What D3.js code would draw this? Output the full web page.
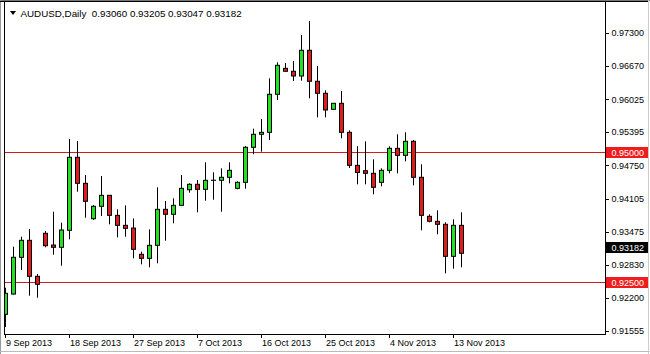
<!DOCTYPE html>
<html><head><meta charset="utf-8">
<script src="https://cdn.jsdelivr.net/npm/d3@7"></script>
<style>html,body{margin:0;padding:0;background:#fff;}svg{display:block;}</style>
</head><body>
<script>
const symbol = "AUDUSD,Daily";
const headerValues = ["0.93060", "0.93205", "0.93047", "0.93182"];
const dates = [
 "2013-09-09","2013-09-10","2013-09-11","2013-09-12","2013-09-13","2013-09-15","2013-09-16","2013-09-17","2013-09-18","2013-09-19","2013-09-20",
 "2013-09-22","2013-09-23","2013-09-24","2013-09-25","2013-09-26","2013-09-27","2013-09-29","2013-09-30",
 "2013-10-01","2013-10-02","2013-10-03","2013-10-04","2013-10-06","2013-10-07","2013-10-08","2013-10-09","2013-10-10","2013-10-11",
 "2013-10-13","2013-10-14","2013-10-15","2013-10-16","2013-10-17","2013-10-18","2013-10-20","2013-10-21","2013-10-22","2013-10-23","2013-10-24","2013-10-25",
 "2013-10-27","2013-10-28","2013-10-29","2013-10-30","2013-10-31","2013-11-01","2013-11-03","2013-11-04","2013-11-05","2013-11-06","2013-11-07","2013-11-08",
 "2013-11-10","2013-11-11","2013-11-12","2013-11-13","2013-11-14"];
const open  = [0.91877,0.92268,0.92977,0.93305,0.92610,0.93440,0.93214,0.93170,0.93498,0.94907,0.94405,0.93722,0.93961,0.94173,0.93787,0.93594,0.93542,0.93035,0.92957,0.93208,0.93903,0.93807,0.93980,0.94281,0.94386,0.94289,0.94463,0.94463,0.94521,0.94308,0.94424,0.95100,0.95351,0.95389,0.96123,0.96624,0.96567,0.96476,0.96972,0.96374,0.96142,0.95833,0.95949,0.95389,0.94752,0.94648,0.94598,0.94424,0.94656,0.95080,0.94945,0.95216,0.94521,0.93768,0.93672,0.93614,0.92996,0.93594];
const high  = [0.92390,0.93181,0.93374,0.93523,0.92654,0.93484,0.93857,0.93645,0.95260,0.95221,0.94565,0.93986,0.94546,0.94180,0.93903,0.93980,0.93729,0.93085,0.93517,0.94328,0.94063,0.94115,0.94565,0.94405,0.94469,0.94810,0.94617,0.94694,0.94810,0.94444,0.95125,0.95459,0.95646,0.96431,0.96740,0.96727,0.96765,0.97267,0.97537,0.96669,0.96200,0.95949,0.96186,0.95428,0.95121,0.95216,0.94868,0.94694,0.95119,0.95351,0.95389,0.95241,0.94772,0.93807,0.93884,0.93652,0.93710,0.93845];
const low   = [0.91632,0.92260,0.92732,0.92236,0.92197,0.93170,0.93027,0.92815,0.93324,0.94243,0.93741,0.93697,0.93774,0.93614,0.93363,0.93374,0.92957,0.92842,0.92784,0.92861,0.93297,0.93633,0.93970,0.94224,0.93845,0.94069,0.94088,0.93857,0.94405,0.94289,0.94301,0.94965,0.95015,0.95241,0.96013,0.96567,0.96379,0.96385,0.96045,0.95679,0.95679,0.95820,0.95273,0.94700,0.94386,0.94386,0.94193,0.94347,0.94598,0.94598,0.94830,0.94366,0.93498,0.93652,0.93421,0.92668,0.92757,0.92784];
const close = [0.92282,0.92977,0.93305,0.92610,0.92456,0.93201,0.93170,0.93504,0.94907,0.94405,0.94058,0.93961,0.94173,0.93787,0.93594,0.93536,0.93131,0.92957,0.93208,0.93903,0.93807,0.93980,0.94308,0.94386,0.94289,0.94463,0.94465,0.94521,0.94656,0.94424,0.95100,0.95351,0.95389,0.96123,0.96682,0.96567,0.96476,0.96972,0.96374,0.96142,0.95820,0.95949,0.95389,0.94752,0.94613,0.94598,0.94328,0.94656,0.95080,0.94945,0.95216,0.94521,0.93787,0.93672,0.93614,0.92996,0.93594,0.93054];
const priceTicks = [0.97300,0.96670,0.96025,0.95395,0.94750,0.94105,0.93475,0.92830,0.92200,0.91555];
const dateTicks = ["2013-09-09","2013-09-18","2013-09-27","2013-10-07","2013-10-16","2013-10-25","2013-11-04","2013-11-13"];
const levels = [0.95000, 0.92500];
const currentPrice = 0.93182;

const W = 650, H = 354;
const plot = {left: 4.5, right: 605.5, top: 1.5, bottom: 334.5};
const font = "'Liberation Sans', Arial, sans-serif";

const svg = d3.select("body").append("svg").attr("width", W).attr("height", H)
  .style("font-family", font);

const x = d3.scaleLinear().domain([0, dates.length - 1]).range([5.5, 461.5]);
const y = d3.scaleLinear().domain([0.91555, 0.97300]).range([331, 33.3]);
const fmt = d3.format(".5f");

svg.append("rect").attr("width", W).attr("height", H).attr("fill", "#fff");

// clip
svg.append("clipPath").attr("id", "pc").append("rect")
  .attr("x", 5).attr("y", 2).attr("width", 600).attr("height", 332);

const g = svg.append("g").attr("clip-path", "url(#pc)");

// level lines
g.selectAll("line.lvl").data(levels).join("line")
  .attr("x1", 5).attr("x2", 605)
  .attr("y1", d => Math.round(y(d)) + 0.5).attr("y2", d => Math.round(y(d)) + 0.5)
  .attr("stroke", "#cc1f1f").attr("stroke-width", 1);

const candles = dates.map((d, i) => ({d, i, o: open[i], h: high[i], l: low[i], c: close[i]}));

g.selectAll("line.wick").data(candles).join("line")
  .attr("x1", d => x(d.i)).attr("x2", d => x(d.i))
  .attr("y1", d => y(d.h)).attr("y2", d => y(d.l))
  .attr("stroke", "#000").attr("stroke-width", 1);

g.selectAll("rect.body").data(candles).join("rect")
  .attr("x", d => x(d.i) - 2).attr("width", 4)
  .attr("y", d => y(Math.max(d.o, d.c)))
  .attr("height", d => Math.abs(y(d.o) - y(d.c)))
  .attr("fill", d => d.c >= d.o ? "#22e022" : "#dd1c1c")
  .attr("stroke", "#000").attr("stroke-width", 1);

// frame
const frame = svg.append("g").attr("shape-rendering", "crispEdges");
frame.append("line").attr("x1", 0).attr("x2", W).attr("y1", 0.5).attr("y2", 0.5).attr("stroke", "#777");
frame.append("line").attr("x1", 0.5).attr("x2", 0.5).attr("y1", 0).attr("y2", H).attr("stroke", "#999");
frame.append("line").attr("x1", 0).attr("x2", W).attr("y1", H - 2.5).attr("y2", H - 2.5).attr("stroke", "#bbb");
frame.append("line").attr("x1", W - 1.5).attr("x2", W - 1.5).attr("y1", 0).attr("y2", H).attr("stroke", "#ccc");
frame.append("line").attr("x1", plot.left).attr("x2", plot.left).attr("y1", 1).attr("y2", plot.bottom).attr("stroke", "#000");
frame.append("line").attr("x1", plot.right).attr("x2", plot.right).attr("y1", 1).attr("y2", plot.bottom).attr("stroke", "#000");
frame.append("line").attr("x1", plot.left).attr("x2", plot.right).attr("y1", plot.bottom).attr("y2", plot.bottom).attr("stroke", "#000");
frame.append("line").attr("x1", 0).attr("x2", W - 2).attr("y1", 1.5).attr("y2", 1.5).attr("stroke", "#000");

// price axis
const pa = svg.append("g");
pa.selectAll("line").data(priceTicks).join("line")
  .attr("x1", 606).attr("x2", 609)
  .attr("y1", d => Math.round(y(d)) + 0.5).attr("y2", d => Math.round(y(d)) + 0.5)
  .attr("stroke", "#000").attr("shape-rendering", "crispEdges");
pa.selectAll("text").data(priceTicks).join("text")
  .attr("x", 611.5).attr("y", d => y(d)).attr("dy", "0.35em")
  .attr("font-size", 9).attr("fill", "#000").text(d => fmt(d));

// level labels
const lab = svg.append("g");
const boxes = levels.map(v => ({v, bg: "#ee1c1c"})).concat([{v: currentPrice, bg: "#000"}]);
lab.selectAll("rect").data(boxes).join("rect")
  .attr("x", 606).attr("width", 42)
  .attr("y", d => Math.round(y(d.v)) - 5).attr("height", 11)
  .attr("fill", d => d.bg).attr("shape-rendering", "crispEdges");
lab.selectAll("text").data(boxes).join("text")
  .attr("x", 611.5).attr("y", d => Math.round(y(d.v)) + 0.5).attr("dy", "0.35em")
  .attr("font-size", 9).attr("fill", "#fff").text(d => fmt(d.v));

// time axis
const fmtDate = d3.timeFormat("%-d %b %Y");
const parse = d3.timeParse("%Y-%m-%d");
const ta = svg.append("g");
const tickIdx = dateTicks.map(d => ({d, i: dates.indexOf(d)}));
ta.selectAll("line").data(tickIdx).join("line")
  .attr("x1", d => x(d.i) - 0.5).attr("x2", d => x(d.i) - 0.5)
  .attr("y1", 334).attr("y2", 338).attr("stroke", "#000").attr("shape-rendering", "crispEdges");
ta.selectAll("text").data(tickIdx).join("text")
  .attr("x", d => x(d.i) + 0.5).attr("y", 346)
  .attr("font-size", 9).attr("fill", "#000").text(d => fmtDate(parse(d.d)));

// header
svg.append("path").attr("d", d3.line()([[10, 11], [16, 11], [13, 15]]) + "Z").attr("fill", "#000");
svg.append("text").attr("x", 20.5).attr("y", 16.5).attr("font-size", 9.8).attr("fill", "#000")
  .attr("xml:space", "preserve")
  .text(symbol + "  " + headerValues.join(" "));
</script>
</body></html>
